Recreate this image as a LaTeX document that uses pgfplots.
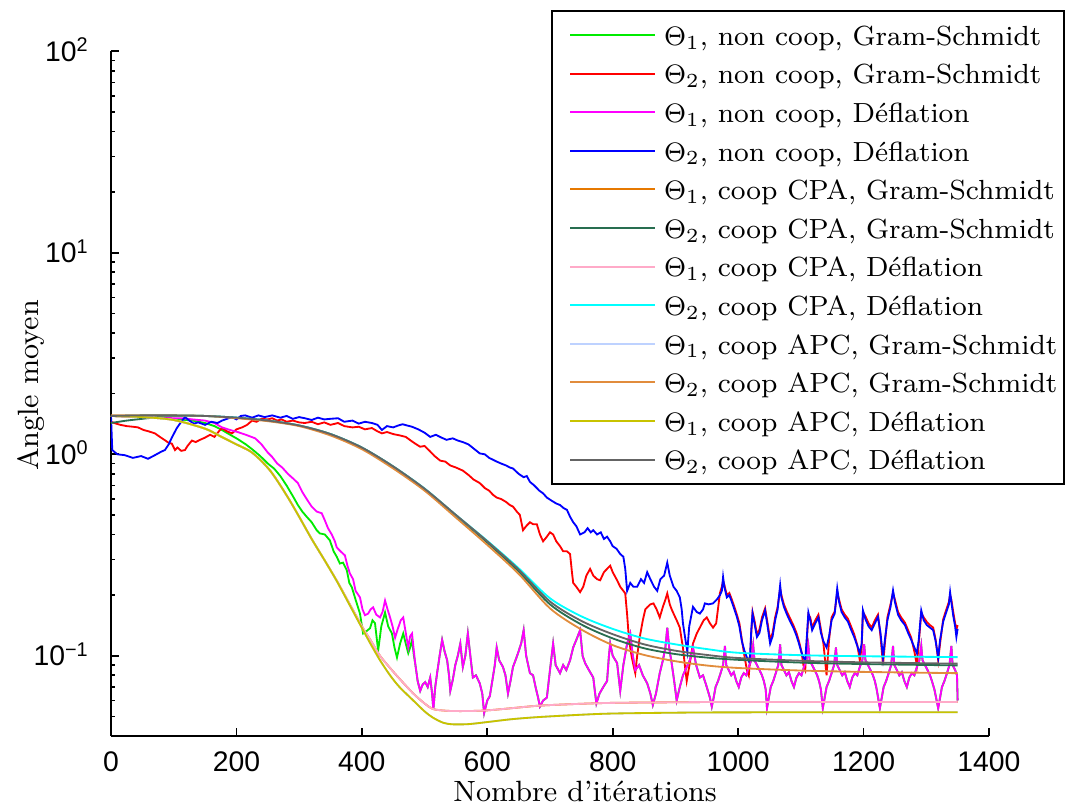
\documentclass[border=0pt]{standalone}
\usepackage{fontspec}
\usepackage{pgfplots}
\usepackage{pgfplotstable}
\pgfplotsset{compat=1.18}
\newfontfamily\helv{Liberation Sans}
\definecolor{cGreen}{RGB}{0,235,0}
\definecolor{cRed}{RGB}{255,0,0}
\definecolor{cMag}{RGB}{255,0,255}
\definecolor{cBlue}{RGB}{0,0,255}
\definecolor{cOrangeA}{RGB}{230,120,0}
\definecolor{cDarkGreen}{RGB}{40,110,80}
\definecolor{cPink}{RGB}{255,170,200}
\definecolor{cCyan}{RGB}{0,255,255}
\definecolor{cLightBlue}{RGB}{190,210,255}
\definecolor{cOrangeB}{RGB}{225,140,60}
\definecolor{cOlive}{RGB}{200,195,0}
\definecolor{cGray}{RGB}{100,100,100}

% Theta_1, non coop, Deflation (magenta)
\pgfplotstableread{
x y
0 1.55
50 1.53
100 1.51
113 1.51
130 1.49
150 1.47
165 1.43
177 1.36
190 1.32
202 1.29
215 1.25
230 1.20
240 1.12
250 1.02
257 0.97
265 0.90
273 0.86
282 0.80
290 0.76
298 0.72
305 0.65
312 0.60
320 0.55
328 0.52
336 0.51
341 0.47
346 0.43
352 0.40
357 0.37
360 0.345
366 0.33
373 0.315
377 0.28
381 0.256
386 0.24
390 0.21
397 0.195
401 0.17
405 0.159
410 0.162
414 0.17
418 0.174
423 0.16
429 0.155
433 0.165
437 0.188
441 0.17
445 0.155
449 0.14
453 0.123
457 0.135
462 0.15
466 0.155
470 0.13
474 0.11
477 0.125
480 0.129
483 0.105
485 0.092
489 0.075
493 0.067
497 0.072
501 0.074
505 0.07
509 0.078
512 0.065
514 0.054
517 0.07
520 0.082
524 0.1
528 0.12
532 0.105
536 0.095
539 0.08
541 0.067
545 0.076
549 0.09
553 0.1
557 0.115
561 0.088
565 0.1
569 0.129
573 0.1
577 0.078
582 0.08
588 0.073
592 0.065
595 0.052
600 0.06
604 0.063
608 0.075
612 0.09
615 0.11
619 0.095
625 0.088
629 0.08
633 0.065
637 0.075
641 0.088
645 0.095
649 0.103
654 0.115
658 0.134
662 0.1
668 0.082
673 0.08
677 0.07
681 0.062
684 0.056
689 0.06
695 0.062
700 0.085
705 0.115
709 0.09
716 0.082
721 0.09
726 0.085
732 0.095
737 0.11
742 0.12
748 0.134
752 0.1
756 0.092
762 0.085
769 0.078
772 0.065
774 0.058
779 0.065
785 0.07
791 0.075
794 0.1
796 0.115
800 0.1
807 0.092
812 0.067
817 0.09
823 0.115
828 0.129
832 0.1
836 0.085
842 0.09
848 0.08
855 0.073
860 0.065
864 0.057
869 0.065
875 0.082
880 0.095
884 0.11
887 0.138
890 0.11
894 0.092
898 0.075
902 0.06
907 0.07
912 0.08
918 0.088
923 0.095
928 0.11
933 0.09
939 0.078
944 0.08
950 0.07
955 0.062
958 0.056
961 0.062
964 0.07
968 0.075
972 0.082
976 0.09
979 0.112
981 0.09
985 0.085
989 0.08
993 0.083
997 0.075
1001 0.07
1005 0.078
1009 0.082
1013 0.08
1017 0.088
1021 0.095
1024 0.113
1026 0.095
1030 0.09
1034 0.085
1038 0.08
1041 0.075
1044 0.068
1046 0.055
1049 0.062
1052 0.07
1056 0.075
1060 0.082
1064 0.09
1067 0.114
1069 0.09
1073 0.085
1077 0.08
1081 0.083
1085 0.075
1089 0.07
1093 0.078
1097 0.082
1101 0.08
1105 0.088
1109 0.095
1112 0.112
1114 0.095
1118 0.09
1122 0.085
1126 0.08
1129 0.075
1132 0.068
1135 0.055
1138 0.062
1141 0.07
1145 0.075
1149 0.082
1153 0.09
1156 0.11
1158 0.09
1162 0.085
1166 0.08
1170 0.083
1174 0.075
1178 0.07
1182 0.078
1186 0.082
1190 0.08
1194 0.088
1198 0.095
1201 0.114
1203 0.095
1207 0.09
1211 0.085
1215 0.08
1218 0.075
1221 0.068
1226 0.055
1229 0.062
1232 0.07
1236 0.075
1240 0.082
1244 0.09
1247 0.112
1249 0.09
1253 0.085
1257 0.08
1261 0.083
1265 0.075
1269 0.07
1273 0.078
1277 0.082
1281 0.08
1285 0.088
1289 0.095
1292 0.112
1294 0.095
1298 0.09
1302 0.085
1306 0.08
1309 0.075
1313 0.068
1319 0.055
1322 0.062
1325 0.07
1329 0.075
1333 0.082
1337 0.09
1340 0.112
1342 0.09
1346 0.085
1349 0.08
1350 0.06
}\magtab

\begin{document}
\begin{tikzpicture}
\path[use as bounding box] (-33.3pt,-21.6pt) rectangle (286.5pt,220.8pt);
\begin{axis}[
  at={(0pt,0pt)}, anchor=south west,
  width=263.4pt, height=205.4pt, scale only axis,
  ymode=log, xmin=0, xmax=1400, ymin=0.04, ymax=100,
  axis x line*=bottom, axis y line*=left,
  axis line style={-, line width=0.6pt, black},
  every tick/.style={black, line width=0.5pt},
  major tick length=2.4pt, minor tick length=1.3pt,
  tick align=inside,
  xtick={0,200,400,600,800,1000,1200,1400},
  xticklabels={0,200,400,600,800,1000,1200,1400},
  ytick={0.1,1,10,100},
  yticklabels={{10\textsuperscript{−1}},{10\textsuperscript{0}},{10\textsuperscript{1}},{10\textsuperscript{2}}},
  minor ytick={0.04,0.05,0.06,0.07,0.08,0.09,0.2,0.3,0.4,0.5,0.6,0.7,0.8,0.9,2,3,4,5,6,7,8,9,20,30,40,50,60,70,80,90},
  xticklabel style={font=\helv\fontsize{8.5}{10}\selectfont, anchor=north, inner sep=0pt, yshift=-4.4pt},
  yticklabel style={font=\helv\fontsize{8.5}{10}\selectfont, anchor=base east, inner sep=0pt, xshift=-6.3pt, yshift=-3pt},
  xlabel={Nombre d'itérations},
  ylabel={Angle moyen},
  label style={font=\fontsize{8.8}{10}\selectfont},
  xlabel style={at={(axis description cs:0.54,-0.095)}, anchor=base},
  ylabel style={at={(axis description cs:-0.083,0.512)}, anchor=base},
  every axis plot/.append style={line width=0.55pt},
  legend image code/.code={\path (0pt,0pt); \draw[#1] (3.1pt,0pt) -- (28.6pt,0pt);},
  legend cell align=left,
  legend style={
    at={(axis description cs:0.501,1.0603)}, anchor=north west,
    draw=black, line width=0.6pt, fill=white,
    font=\fontsize{8.3}{10}\selectfont,
    inner xsep=2.1pt, inner ysep=2.7pt,
    row sep=2.58pt, column sep=2.4pt,
    nodes={inner sep=0pt, text height=7.6pt, text depth=1.4pt},
  },
]
% 1 green: Theta1 non coop GS
\addplot[cGreen] coordinates {
(0,1.55)(50,1.53)(100,1.50)(130,1.47)(150,1.43)(165,1.38)(177,1.32)(190,1.25)(202,1.19)
(215,1.12)(225,1.06)(238,0.98)(250,0.90)(260,0.85)(270,0.78)(280,0.70)(290,0.62)(298,0.56)
(305,0.52)(312,0.49)(320,0.46)(328,0.42)(333,0.405)(341,0.40)(349,0.374)(355,0.33)(360,0.31)
(365,0.287)(370,0.29)(376,0.266)(380,0.23)(384,0.219)(390,0.19)(397,0.162)(402,0.129)
(408,0.133)(413,0.137)(417,0.15)(421,0.145)(424,0.12)(426,0.106)(431,0.14)(437,0.164)
(442,0.14)(448,0.129)(452,0.11)(456,0.098)(461,0.115)(466,0.129)(470,0.115)(474,0.103)
(477,0.11)(480,0.12)(483,0.1)(485,0.092)
};
\addlegendentry{$\Theta_1$, non coop, Gram-Schmidt}
\addplot[cGreen, forget plot, restrict x to domain=485:1400] table[x=x,y=y] {\magtab};
% 2 red: Theta2 non coop GS
\addplot[cRed] coordinates {
(0,1.45)(8,1.42)(15,1.40)(25,1.38)(35,1.37)(43,1.36)(52,1.32)(60,1.30)(70,1.27)(78,1.22)
(85,1.18)(92,1.14)(97,1.13)(102,1.05)(106,1.08)(112,1.04)(118,1.05)(122,1.10)(129,1.17)
(135,1.15)(142,1.18)(150,1.21)(158,1.25)(165,1.22)(172,1.30)(177,1.35)(185,1.30)(193,1.27)
(200,1.33)(209,1.36)(217,1.40)(225,1.47)(232,1.45)(240,1.50)(250,1.49)(257,1.51)(265,1.47)
(272,1.49)(280,1.45)(290,1.47)(300,1.44)(309,1.43)(320,1.45)(330,1.41)(340,1.44)(350,1.40)
(362,1.43)(372,1.38)(385,1.36)(395,1.37)(405,1.33)(416,1.35)(425,1.30)(432,1.27)(440,1.29)
(450,1.26)(461,1.24)(470,1.22)(478,1.17)(485,1.13)(493,1.09)(500,1.10)(508,1.04)(516,0.98)
(525,0.93)(533,0.92)(541,0.88)(550,0.86)(561,0.83)(570,0.79)(578,0.75)(588,0.72)(596,0.68)
(603,0.66)(609,0.63)(615,0.61)(622,0.60)(630,0.58)(636,0.56)(641,0.55)(647,0.52)(652,0.50)
(657,0.42)(662,0.44)(668,0.46)(673,0.45)(679,0.45)(684,0.40)(689,0.37)(695,0.39)(700,0.41)
(705,0.40)(710,0.37)(716,0.35)(721,0.33)(727,0.33)(732,0.32)(735,0.26)(737,0.23)(742,0.22)
(748,0.207)(753,0.22)(758,0.25)(764,0.27)(769,0.25)(775,0.24)(780,0.237)(786,0.26)(791,0.27)
(796,0.28)(800,0.26)(807,0.237)(812,0.22)(817,0.21)(820,0.204)(823,0.16)(826,0.12)(830,0.10)
(833,0.09)(836,0.082)(839,0.10)(843,0.123)(848,0.15)(852,0.17)(855,0.174)(860,0.18)(865,0.182)
(870,0.17)(875,0.155)(880,0.175)(884,0.19)(887,0.204)(891,0.18)(894,0.17)(897,0.162)(902,0.15)
(907,0.138)(910,0.12)(912,0.11)(915,0.09)(918,0.075)(921,0.085)(923,0.092)(928,0.115)(934,0.129)
(940,0.14)(945,0.15)(950,0.155)(955,0.145)(960,0.138)(965,0.145)(971,0.205)(974,0.22)(976,0.235)
(978,0.225)(982,0.2)(986,0.205)(990,0.19)(994,0.175)(998,0.16)(1002,0.145)(1006,0.12)(1010,0.1)
(1014,0.085)(1017,0.08)(1019,0.095)(1021,0.13)(1023,0.165)(1026,0.15)(1030,0.128)(1034,0.135)
(1038,0.155)(1043,0.172)(1047,0.145)(1051,0.12)(1055,0.13)(1059,0.155)(1063,0.175)(1067,0.215)
(1069,0.2)(1073,0.18)(1078,0.165)(1083,0.153)(1088,0.142)(1093,0.13)(1097,0.118)(1101,0.105)
(1104,0.09)(1107,0.085)(1110,0.125)(1112,0.16)(1115,0.155)(1118,0.138)(1123,0.15)(1128,0.16)
(1132,0.135)(1136,0.115)(1141,0.08)(1145,0.12)(1149,0.155)(1154,0.166)(1158,0.205)(1161,0.19)
(1165,0.17)(1170,0.16)(1175,0.153)(1180,0.14)(1185,0.128)(1190,0.113)(1194,0.095)(1197,0.11)
(1199,0.165)(1203,0.157)(1208,0.145)(1213,0.138)(1218,0.15)(1223,0.16)(1227,0.125)(1231,0.09)
(1234,0.115)(1238,0.155)(1243,0.18)(1247,0.205)(1250,0.19)(1255,0.165)(1260,0.155)(1266,0.146)
(1271,0.134)(1276,0.123)(1281,0.105)(1285,0.09)(1288,0.115)(1292,0.163)(1296,0.155)(1301,0.147)
(1306,0.142)(1311,0.138)(1315,0.12)(1319,0.095)(1322,0.115)(1327,0.152)(1332,0.17)(1336,0.185)
(1338,0.2)(1340,0.19)(1343,0.165)(1346,0.145)(1348,0.135)(1350,0.142)
};
\addlegendentry{$\Theta_2$, non coop, Gram-Schmidt}
% 3 magenta
\addplot[cMag] table[x=x,y=y] {\magtab};
\addlegendentry{$\Theta_1$, non coop, Déflation}
% 4 blue
\addplot[cBlue] coordinates {
(0,1.55)(2,1.05)(10,1.00)(22,0.99)(35,0.96)(48,0.98)(59,0.95)(70,0.99)(80,1.03)(86,1.05)
(92,1.12)(97,1.21)(105,1.35)(112,1.45)(118,1.53)(125,1.47)(132,1.42)(139,1.44)(150,1.40)
(160,1.45)(170,1.43)(177,1.47)(185,1.50)(193,1.53)(200,1.49)(207,1.55)(214,1.56)(225,1.52)
(235,1.56)(245,1.53)(257,1.56)(270,1.52)(280,1.55)(290,1.50)(300,1.53)(309,1.51)(320,1.48)
(330,1.52)(340,1.49)(350,1.50)(362,1.51)(372,1.45)(385,1.47)(395,1.42)(405,1.45)(416,1.43)
(425,1.40)(432,1.32)(440,1.38)(450,1.36)(458,1.39)(465,1.41)(472,1.39)(480,1.37)(490,1.33)
(500,1.28)(509,1.22)(518,1.25)(527,1.21)(535,1.18)(545,1.20)(553,1.17)(561,1.15)(570,1.12)
(578,1.07)(588,1.01)(596,1.00)(603,0.96)(609,0.94)(615,0.92)(622,0.90)(630,0.88)(636,0.86)
(641,0.85)(650,0.80)(658,0.77)(663,0.78)(668,0.73)(675,0.70)(683,0.66)(689,0.64)(695,0.61)
(702,0.59)(710,0.57)(716,0.56)(722,0.54)(727,0.53)(732,0.49)(737,0.46)(742,0.44)(748,0.40)
(755,0.41)(760,0.43)(765,0.41)(769,0.42)(775,0.40)(781,0.41)(786,0.38)(791,0.39)(796,0.37)
(800,0.35)(806,0.34)(812,0.32)(817,0.31)(820,0.27)(823,0.21)(828,0.23)(833,0.22)(839,0.22)
(845,0.24)(850,0.23)(855,0.26)(860,0.24)(866,0.22)(871,0.21)(876,0.24)(882,0.25)(887,0.29)
(891,0.25)(897,0.22)(902,0.21)(907,0.195)(910,0.17)(912,0.145)(916,0.12)(919,0.105)(922,0.14)
(928,0.175)(934,0.165)(939,0.162)(944,0.17)(947,0.182)(953,0.18)(960,0.182)(966,0.19)
(971,0.2)(974,0.21)(976,0.246)(978,0.22)(982,0.195)(986,0.2)(990,0.185)(994,0.17)(998,0.156)
(1002,0.14)(1006,0.118)(1010,0.106)(1014,0.098)(1017,0.094)(1019,0.1)(1021,0.135)(1023,0.162)
(1026,0.145)(1030,0.124)(1034,0.13)(1038,0.15)(1043,0.168)(1047,0.14)(1051,0.115)(1055,0.125)
(1059,0.15)(1063,0.17)(1067,0.224)(1069,0.195)(1073,0.175)(1078,0.16)(1083,0.148)(1088,0.138)
(1093,0.126)(1097,0.115)(1101,0.104)(1104,0.098)(1107,0.095)(1110,0.13)(1112,0.164)(1115,0.15)
(1118,0.134)(1123,0.145)(1128,0.155)(1132,0.13)(1136,0.118)(1141,0.11)(1145,0.125)(1149,0.15)
(1154,0.162)(1158,0.216)(1161,0.185)(1165,0.165)(1170,0.155)(1175,0.148)(1180,0.135)(1185,0.124)
(1190,0.112)(1194,0.103)(1197,0.115)(1199,0.168)(1203,0.152)(1208,0.14)(1213,0.134)(1218,0.145)
(1223,0.156)(1227,0.13)(1231,0.098)(1234,0.12)(1238,0.15)(1243,0.175)(1247,0.211)(1250,0.185)
(1255,0.16)(1260,0.15)(1266,0.142)(1271,0.13)(1276,0.12)(1281,0.11)(1285,0.103)(1288,0.12)
(1292,0.168)(1296,0.15)(1301,0.142)(1306,0.138)(1311,0.134)(1315,0.118)(1319,0.098)(1322,0.12)
(1327,0.148)(1332,0.165)(1336,0.18)(1338,0.207)(1340,0.185)(1343,0.158)(1346,0.14)(1348,0.124)
(1350,0.136)
};
\addlegendentry{$\Theta_2$, non coop, Déflation}
% 5 orange A: Theta1 coop CPA GS
\addplot[cOrangeA, smooth] coordinates {
(0,1.55)(50,1.53)(100,1.48)(150,1.34)(174,1.23)(200,1.12)(222,1.035)(238,0.938)(254,0.828)
(269,0.709)(285,0.59)(300,0.49)(320,0.38)(340,0.30)(360,0.236)(380,0.182)(402,0.137)(415,0.118)
(429,0.1)(445,0.087)(460,0.077)(482,0.065)(500,0.058)(513,0.0545)(530,0.0535)(545,0.0532)
(570,0.0532)(600,0.0536)(640,0.055)(684,0.0566)(750,0.0578)(800,0.0584)(900,0.0588)
(1000,0.059)(1350,0.059)
};
\addlegendentry{$\Theta_1$, coop CPA, Gram-Schmidt}
% 6 dark green: Theta2 coop CPA GS
\addplot[cDarkGreen, smooth] coordinates {
(0,1.43)(25,1.47)(50,1.50)(75,1.53)(100,1.55)(150,1.55)(200,1.52)(250,1.47)(300,1.39)
(350,1.26)(400,1.08)(450,0.87)(500,0.672)(550,0.495)(600,0.365)(650,0.262)(700,0.18)
(750,0.143)(800,0.122)(850,0.109)(900,0.102)(950,0.098)(1000,0.0955)(1100,0.0925)
(1200,0.091)(1350,0.0896)
};
\addlegendentry{$\Theta_2$, coop CPA, Gram-Schmidt}
% 7 pink: Theta1 coop CPA Deflation
\addplot[cPink, smooth] coordinates {
(0,1.55)(50,1.53)(100,1.48)(150,1.34)(174,1.23)(200,1.12)(222,1.035)(238,0.938)(254,0.828)
(269,0.709)(285,0.59)(300,0.49)(320,0.38)(340,0.30)(360,0.236)(380,0.182)(402,0.137)(415,0.118)
(429,0.1)(445,0.087)(460,0.077)(482,0.065)(500,0.058)(513,0.0545)(530,0.0535)(545,0.0532)
(570,0.0532)(600,0.0536)(640,0.055)(684,0.0566)(750,0.0578)(800,0.0584)(900,0.0588)
(1000,0.059)(1350,0.059)
};
\addlegendentry{$\Theta_1$, coop CPA, Déflation}
% 8 cyan: Theta2 coop CPA Deflation
\addplot[cCyan, smooth] coordinates {
(0,1.55)(50,1.56)(100,1.56)(150,1.55)(200,1.52)(250,1.47)(300,1.39)(350,1.26)(400,1.08)
(450,0.87)(500,0.676)(550,0.50)(600,0.372)(650,0.272)(700,0.193)(750,0.157)(800,0.136)
(850,0.122)(900,0.114)(950,0.108)(1000,0.1035)(1100,0.1007)(1200,0.0995)(1350,0.0985)
};
\addlegendentry{$\Theta_2$, coop CPA, Déflation}
% 9 light blue: Theta1 coop APC GS
\addplot[cLightBlue, smooth] coordinates {
(0,1.55)(50,1.53)(100,1.48)(150,1.34)(174,1.23)(200,1.12)(222,1.035)(238,0.938)(254,0.828)
(269,0.709)(285,0.59)(300,0.49)(320,0.38)(340,0.30)(360,0.235)(380,0.18)(402,0.134)(415,0.113)
(429,0.095)(445,0.08)(460,0.07)(482,0.060)(500,0.053)(513,0.0494)(530,0.0465)(545,0.0457)
(570,0.0458)(600,0.0469)(640,0.0485)(684,0.0497)(750,0.051)(800,0.0517)(900,0.0522)
(1000,0.0524)(1350,0.0525)
};
\addlegendentry{$\Theta_1$, coop APC, Gram-Schmidt}
% 10 orange B: Theta2 coop APC GS
\addplot[cOrangeB, smooth] coordinates {
(0,1.56)(50,1.56)(100,1.56)(150,1.55)(200,1.51)(250,1.46)(300,1.38)(350,1.24)(400,1.06)
(450,0.85)(500,0.66)(550,0.485)(600,0.355)(650,0.255)(700,0.172)(750,0.135)(800,0.113)
(850,0.101)(900,0.094)(950,0.0895)(1000,0.087)(1100,0.0845)(1200,0.0832)(1350,0.082)
};
\addlegendentry{$\Theta_2$, coop APC, Gram-Schmidt}
% 11 olive: Theta1 coop APC Deflation
\addplot[cOlive, smooth] coordinates {
(0,1.55)(50,1.53)(100,1.48)(150,1.34)(174,1.23)(200,1.12)(222,1.035)(238,0.938)(254,0.828)
(269,0.709)(285,0.59)(300,0.49)(320,0.38)(340,0.30)(360,0.235)(380,0.18)(402,0.134)(415,0.113)
(429,0.095)(445,0.08)(460,0.07)(482,0.060)(500,0.053)(513,0.0494)(530,0.0465)(545,0.0457)
(570,0.0458)(600,0.0469)(640,0.0485)(684,0.0497)(750,0.051)(800,0.0517)(900,0.0522)
(1000,0.0524)(1350,0.0525)
};
\addlegendentry{$\Theta_1$, coop APC, Déflation}
% 12 gray: Theta2 coop APC Deflation
\addplot[cGray, smooth] coordinates {
(0,1.55)(50,1.56)(100,1.56)(150,1.55)(200,1.52)(250,1.47)(300,1.39)(350,1.26)(400,1.08)
(450,0.87)(500,0.675)(550,0.50)(600,0.37)(650,0.268)(700,0.186)(750,0.149)(800,0.128)
(850,0.114)(900,0.106)(950,0.101)(1000,0.0975)(1100,0.0945)(1200,0.0928)(1350,0.0914)
};
\addlegendentry{$\Theta_2$, coop APC, Déflation}
\end{axis}
\end{tikzpicture}
\end{document}
